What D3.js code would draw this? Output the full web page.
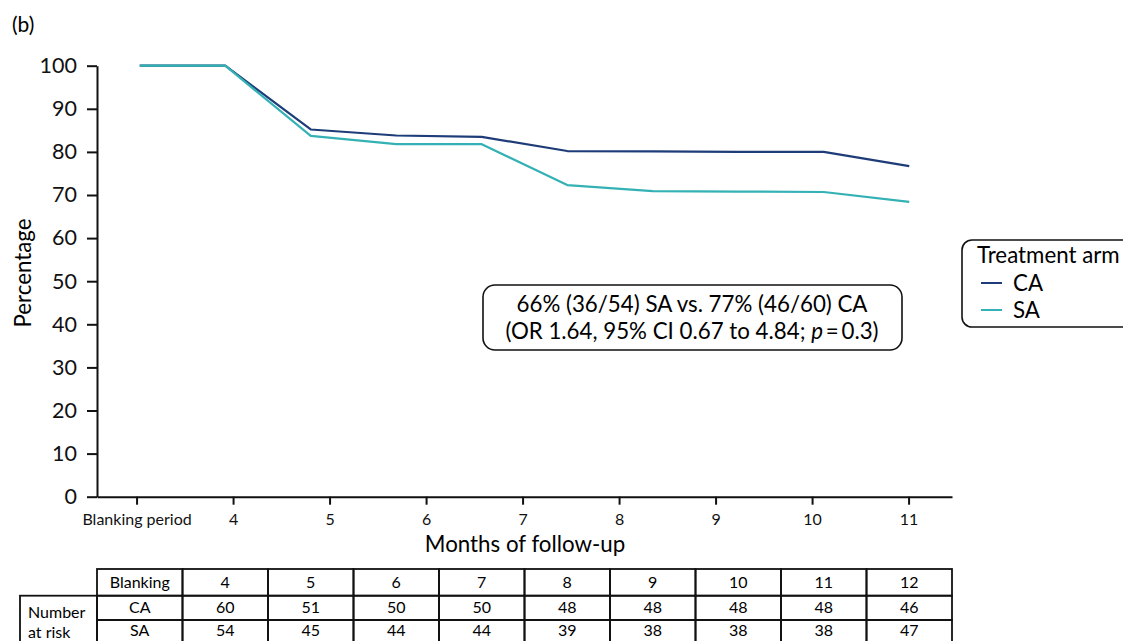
<!DOCTYPE html>
<html>
<head>
<meta charset="utf-8">
<script src="https://cdn.jsdelivr.net/npm/d3@7"></script>
<style>
  html, body { margin: 0; padding: 0; background: #fff; }
  svg { display: block; font-family: Lato, "Open Sans", sans-serif; }
</style>
</head>
<body>
<svg id="chart" width="1123" height="641"></svg>
<script>
// Follow-up periods (one per column of the at-risk table)
const periods = ["Blanking", "4", "5", "6", "7", "8", "9", "10", "11", "12"];
// Percentage free of recurrence by period
const caPct = [100, 100, 85.2, 83.8, 83.5, 80.2, 80.1, 80.0, 80.0, 76.7];
const saPct = [100, 100, 83.7, 81.8, 81.8, 72.3, 70.9, 70.8, 70.7, 68.4];
// Number at risk, months 4 to 12
const caAtRisk = [60, 51, 50, 50, 48, 48, 48, 48, 46];
const saAtRisk = [54, 45, 44, 44, 39, 38, 38, 38, 47];
// Month axis ticks
const monthTicks = [3, 4, 5, 6, 7, 8, 9, 10, 11];
const monthTickLabels = ["Blanking period", "4", "5", "6", "7", "8", "9", "10", "11"];
const yTicks = [0, 10, 20, 30, 40, 50, 60, 70, 80, 90, 100];
const armNames = ["CA", "SA"];
const armColors = ["#1d3c78", "#33b1b4"];
const annotationLines = ["66% (36/54) SA vs. 77% (46/60) CA", "(OR 1.64, 95% CI 0.67 to 4.84; "];

const svg = d3.select("#chart");
const plotLeft = 97, plotRight = 952, plotTop = 65.7, plotBottom = 496.7;
const bigFont = 22.3;

const y = d3.scaleLinear().domain([0, 100]).range([plotBottom, plotTop]);
const xMonth = d3.scaleLinear().domain([2.59, 11.45]).range([plotLeft, plotRight]);
const xCol = d3.scaleBand().domain(periods).range([plotLeft, plotRight]);
const xPt = d3.scalePoint().domain(periods).range([plotLeft, plotRight]).padding(0.5);

// Panel label
svg.append("text").attr("x", 12).attr("y", 32).attr("font-size", 21).text("(b)");

// Y axis
const yAxis = svg.append("g").attr("transform", `translate(${plotLeft},0)`)
  .call(d3.axisLeft(y).tickValues(yTicks).tickSize(10).tickSizeOuter(0).tickPadding(10));
yAxis.selectAll("text").attr("font-size", 21.5).attr("font-family", "Lato").attr("fill", "#111");
yAxis.selectAll("line,path").attr("stroke", "#111").attr("stroke-width", 2);

// X axis
const xAxis = svg.append("g").attr("transform", `translate(0,${plotBottom})`)
  .call(d3.axisBottom(xMonth).tickValues(monthTicks)
    .tickFormat((d, i) => monthTickLabels[i]).tickSize(8).tickSizeOuter(0).tickPadding(9));
xAxis.selectAll("text").attr("font-size", 16).attr("font-family", "Lato").attr("fill", "#111");
xAxis.selectAll("line,path").attr("stroke", "#111").attr("stroke-width", 2);

// Axis titles
svg.append("text").attr("x", 525).attr("y", 552).attr("text-anchor", "middle")
  .attr("font-size", bigFont).text("Months of follow-up");
svg.append("text").attr("transform", "translate(31,273) rotate(-90)")
  .attr("text-anchor", "middle").attr("font-size", bigFont).text("Percentage");

// Survival lines
const line = d3.line().x((d, i) => xPt(periods[i])).y(d => y(d));
[caPct, saPct].forEach((vals, k) => {
  svg.append("path").datum(vals).attr("d", line)
    .attr("fill", "none").attr("stroke", armColors[k]).attr("stroke-width", 2.2)
    .attr("stroke-linejoin", "round");
});

// Annotation box
svg.append("rect").attr("x", 483).attr("y", 285).attr("width", 419).attr("height", 65)
  .attr("rx", 12).attr("fill", "#fff").attr("stroke", "#111").attr("stroke-width", 1.6);
svg.append("text").attr("x", 692).attr("y", 312).attr("text-anchor", "middle")
  .attr("font-size", bigFont).text(annotationLines[0]);
const t2 = svg.append("text").attr("x", 692).attr("y", 339).attr("text-anchor", "middle")
  .attr("font-size", bigFont);
t2.append("tspan").text(annotationLines[1]);
t2.append("tspan").attr("font-style", "italic").text("p");
t2.append("tspan").text("\u2009=\u20090.3)");

// Legend
svg.append("rect").attr("x", 962).attr("y", 240).attr("width", 200).attr("height", 87)
  .attr("rx", 10).attr("fill", "#fff").attr("stroke", "#111").attr("stroke-width", 1.6);
svg.append("text").attr("x", 977).attr("y", 263).attr("font-size", bigFont).text("Treatment arm");
armNames.forEach((name, k) => {
  const ly = 283 + k * 27;
  svg.append("line").attr("x1", 981).attr("x2", 1002).attr("y1", ly).attr("y2", ly)
    .attr("stroke", armColors[k]).attr("stroke-width", 2);
  svg.append("text").attr("x", 1013).attr("y", ly + 8).attr("font-size", bigFont).text(name);
});

// Number-at-risk table: header row of periods, then one row per arm
const rowTop = [569, 595.7, 620], rowBottom = 644;
const rows = [periods, ["CA", ...caAtRisk], ["SA", ...saAtRisk]];
const tbl = svg.append("g").attr("font-size", 16).attr("text-anchor", "middle");
rows.forEach((vals, r) => {
  const y0 = rowTop[r], y1 = r < 2 ? rowTop[r + 1] : rowBottom;
  tbl.selectAll(null).data(vals).enter().append("rect")
    .attr("x", (d, i) => xCol(periods[i])).attr("y", y0)
    .attr("width", xCol.bandwidth()).attr("height", y1 - y0)
    .attr("fill", "none").attr("stroke", "#111").attr("stroke-width", 1.8);
  tbl.selectAll(null).data(vals).enter().append("text")
    .attr("x", (d, i) => xCol(periods[i]) + xCol.bandwidth() / 2)
    .attr("y", (y0 + Math.min(y1, 641)) / 2 + 5.5).text(d => d);
});
// Row-group label cell
svg.append("rect").attr("x", 20).attr("y", 595.7).attr("width", plotLeft - 20).attr("height", rowBottom - 595.7)
  .attr("fill", "none").attr("stroke", "#111").attr("stroke-width", 1.8);
svg.append("text").attr("x", 28).attr("y", 618).attr("font-size", 16).text("Number");
svg.append("text").attr("x", 28).attr("y", 638).attr("font-size", 16).text("at risk");
</script>
</body>
</html>
